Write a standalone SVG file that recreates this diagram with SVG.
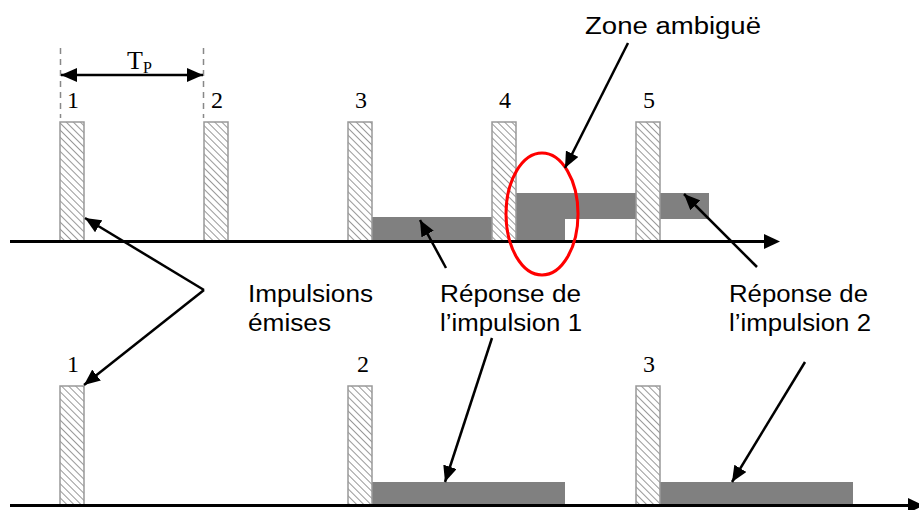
<svg xmlns="http://www.w3.org/2000/svg" width="919" height="510" viewBox="0 0 919 510">
<style>
.pulse{fill:url(#hatch);stroke:#999;stroke-width:1.5}
.resp{fill:#808080}
.axis{stroke:#000;stroke-width:3;fill:none}
.arr{stroke:#000;stroke-width:2.5;fill:none;marker-end:url(#ah)}
.num{font-family:"Liberation Serif","Times New Roman",serif;font-size:24px;fill:#000;text-anchor:middle}
.lbl{font-family:"Liberation Sans",Arial,sans-serif;font-size:23px;fill:#000}
</style>
<defs>
<pattern id="hatch" patternUnits="userSpaceOnUse" width="5" height="5" patternTransform="rotate(-45)">
<rect width="5" height="5" fill="#fff"/>
<line x1="0" y1="0" x2="0" y2="5" stroke="#999" stroke-width="2"/>
</pattern>
<marker id="ah" markerUnits="userSpaceOnUse" markerWidth="18" markerHeight="14" refX="16" refY="7" orient="auto">
<path d="M0,0 L16,7 L0,14 Z" fill="#000"/>
</marker>
<marker id="ahs" markerUnits="userSpaceOnUse" markerWidth="18" markerHeight="14" refX="16" refY="7" orient="auto-start-reverse">
<path d="M0,0 L16,7 L0,14 Z" fill="#000"/>
</marker>
</defs>

<g id="period">
<line x1="60.5" y1="48" x2="60.5" y2="118" stroke="#888" stroke-width="1.5" stroke-dasharray="6 5"/>
<line x1="203.5" y1="48" x2="203.5" y2="118" stroke="#888" stroke-width="1.5" stroke-dasharray="6 5"/>
<line x1="61" y1="75" x2="203" y2="75" stroke="#000" stroke-width="2.5" marker-start="url(#ahs)" marker-end="url(#ahs)"/>
<text x="127" y="69" font-family="Liberation Serif,Times New Roman,serif" font-size="26">T<tspan font-size="16" dy="4">P</tspan></text>
</g>

<g id="top-row">
<g id="top-responses">
<rect class="resp" x="372" y="217" width="193" height="24"/>
<rect class="resp" x="516" y="193" width="193" height="26"/>
</g>
<g id="top-pulse-1"><rect class="pulse" x="60" y="122" width="24" height="119"/><text class="num" x="73" y="108">1</text></g>
<g id="top-pulse-2"><rect class="pulse" x="204" y="122" width="24" height="119"/><text class="num" x="217" y="108">2</text></g>
<g id="top-pulse-3"><rect class="pulse" x="348" y="122" width="24" height="119"/><text class="num" x="361" y="108">3</text></g>
<g id="top-pulse-4"><rect class="pulse" x="492" y="122" width="24" height="119"/><text class="num" x="505" y="108">4</text></g>
<g id="top-pulse-5"><rect class="pulse" x="636" y="122" width="24" height="119"/><text class="num" x="649" y="108">5</text></g>
<line id="top-axis" class="axis" x1="10" y1="241.5" x2="766" y2="241.5"/>
<path d="M764,234 L780,241.5 L764,249 Z" fill="#000"/>
<ellipse id="zone" cx="542" cy="214" rx="36" ry="61" fill="none" stroke="#f00" stroke-width="3"/>
</g>

<g id="bottom-row">
<g id="bottom-responses">
<rect class="resp" x="372" y="482" width="193" height="24"/>
<rect class="resp" x="660" y="482" width="193" height="24"/>
</g>
<g id="bottom-pulse-1"><rect class="pulse" x="60" y="386" width="24" height="120"/><text class="num" x="73" y="372">1</text></g>
<g id="bottom-pulse-2"><rect class="pulse" x="348" y="386" width="24" height="120"/><text class="num" x="363" y="372">2</text></g>
<g id="bottom-pulse-3"><rect class="pulse" x="636" y="386" width="24" height="120"/><text class="num" x="649" y="372">3</text></g>
<line id="bottom-axis" class="axis" x1="10" y1="505.5" x2="910" y2="505.5"/>
<path d="M908,498 L924,505.5 L908,513 Z" fill="#000"/>
</g>

<g id="labels">
<text id="lbl-zone" class="lbl" x="585" y="34" textLength="176" lengthAdjust="spacingAndGlyphs">Zone ambiguë</text>
<g id="lbl-impulsions">
<text class="lbl" x="248" y="302" textLength="125" lengthAdjust="spacingAndGlyphs">Impulsions</text>
<text class="lbl" x="248" y="331" textLength="83" lengthAdjust="spacingAndGlyphs">émises</text>
</g>
<g id="lbl-rep1">
<text class="lbl" x="440" y="302" textLength="141" lengthAdjust="spacingAndGlyphs">Réponse de</text>
<text class="lbl" x="440" y="331" textLength="142" lengthAdjust="spacingAndGlyphs">l’impulsion 1</text>
</g>
<g id="lbl-rep2">
<text class="lbl" x="729" y="302" textLength="139" lengthAdjust="spacingAndGlyphs">Réponse de</text>
<text class="lbl" x="729" y="331" textLength="142" lengthAdjust="spacingAndGlyphs">l’impulsion 2</text>
</g>
</g>

<g id="connectors">
<polyline class="arr" points="204,290 85,218"/>
<polyline class="arr" points="204,290 84,385"/>
<line class="arr" x1="446" y1="268" x2="420" y2="220"/>
<line class="arr" x1="757" y1="267" x2="684" y2="194"/>
<line class="arr" x1="628" y1="43" x2="565" y2="168"/>
<line class="arr" x1="492" y1="338" x2="445" y2="482"/>
<line class="arr" x1="805" y1="362" x2="732" y2="482"/>
</g>
</svg>
